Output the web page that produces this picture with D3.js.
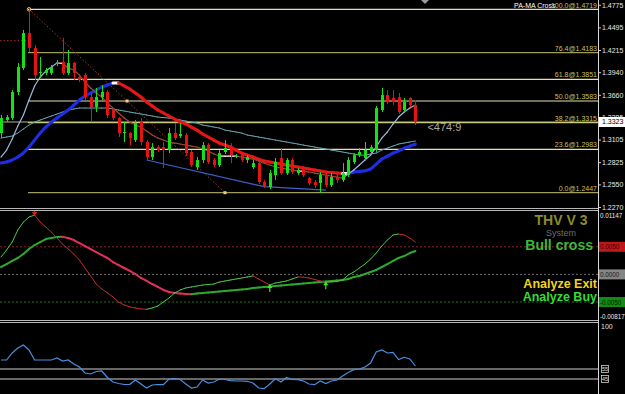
<!DOCTYPE html>
<html>
<head>
<meta charset="utf-8">
<script src="https://d3js.org/d3.v7.min.js"></script>
<style>
  body { margin: 0; background: #000; }
  svg { display: block; }
  text { font-family: "Liberation Sans", Arial, sans-serif; }
</style>
</head>
<body>
<svg id="chart"></svg>
<script>
// chart size and right price axis
var svgWidth = 625;
var svgHeight = 394;
var axisX = 598;

// candles, one per bar (index 0..74)
var opens = [1.3186,1.3347,1.3372,1.3694,1.3992,1.4425,1.4240,1.3930,1.3930,1.3930,
  1.4041,1.4066,1.3930,1.4054,1.3880,1.3905,1.3632,1.3508,1.3632,1.3694,
  1.3471,1.3372,1.3186,1.3186,1.3099,1.3322,1.3075,1.2889,1.3012,1.3012,
  1.2975,1.3186,1.3149,1.3161,1.2951,1.2765,1.2852,1.3037,1.2852,1.2790,
  1.2951,1.3012,1.2901,1.2913,1.2852,1.2765,1.2814,1.2579,1.2517,1.2666,
  1.2876,1.2690,1.2852,1.2690,1.2752,1.2628,1.2579,1.2567,1.2666,1.2542,
  1.2641,1.2604,1.2666,1.2827,1.2913,1.2876,1.2951,1.2975,1.3471,1.3657,
  1.3620,1.3632,1.3471,1.3620,1.3533];
var highs = [1.3409,1.3409,1.3719,1.4054,1.4463,1.4719,1.4277,1.4128,1.3992,1.4029,
  1.4091,1.4363,1.4215,1.4066,1.3905,1.3930,1.3682,1.3744,1.3781,1.3719,
  1.3496,1.3384,1.3322,1.3199,1.3347,1.3372,1.3099,1.3062,1.3037,1.3075,
  1.3248,1.3310,1.3310,1.3186,1.2975,1.2889,1.3075,1.3062,1.2876,1.2975,
  1.3099,1.3062,1.2926,1.2951,1.2913,1.2852,1.2852,1.2604,1.2728,1.2876,
  1.3000,1.2876,1.2876,1.2752,1.2777,1.2641,1.2604,1.2703,1.2690,1.2690,
  1.2703,1.2814,1.2889,1.2938,1.3000,1.3075,1.3037,1.3521,1.3744,1.3719,
  1.3719,1.3682,1.3620,1.3632,1.3595];
var lows = [1.3124,1.3322,1.3347,1.3657,1.3967,1.4190,1.3843,1.3880,1.3905,1.3905,
  1.4016,1.3905,1.3905,1.3843,1.3818,1.3595,1.3322,1.3446,1.3595,1.3372,
  1.3347,1.3137,1.3075,1.3037,1.3075,1.3037,1.2852,1.2852,1.2951,1.2752,
  1.2938,1.3099,1.3124,1.2901,1.2765,1.2728,1.2814,1.2802,1.2765,1.2765,
  1.2926,1.2814,1.2876,1.2827,1.2814,1.2740,1.2554,1.2505,1.2492,1.2604,
  1.2666,1.2666,1.2678,1.2666,1.2641,1.2542,1.2505,1.2447,1.2517,1.2517,
  1.2567,1.2579,1.2641,1.2802,1.2889,1.2852,1.2926,1.2951,1.3446,1.3545,
  1.3533,1.3422,1.3446,1.3508,1.3285];
var closes = [1.3372,1.3384,1.3694,1.4004,1.4425,1.4240,1.3905,1.3942,1.3967,1.4004,
  1.4054,1.3930,1.4054,1.3930,1.3843,1.3632,1.3508,1.3632,1.3694,1.3409,
  1.3372,1.3186,1.3199,1.3124,1.3310,1.3075,1.2889,1.3012,1.2975,1.2975,
  1.3186,1.3124,1.3174,1.2938,1.2790,1.2852,1.3037,1.2827,1.2790,1.2938,
  1.3000,1.2913,1.2901,1.2852,1.2889,1.2814,1.2579,1.2517,1.2690,1.2827,
  1.2690,1.2852,1.2703,1.2728,1.2666,1.2567,1.2542,1.2666,1.2542,1.2641,
  1.2604,1.2690,1.2852,1.2913,1.2951,1.2975,1.3012,1.3496,1.3657,1.3570,
  1.3570,1.3446,1.3570,1.3533,1.3323];

// moving averages
var fastMA = [1.2889,1.2975,1.3112,1.3273,1.3409,1.3595,1.3769,1.3880,1.3954,1.4004,
  1.4054,1.4050,1.3992,1.3967,1.3905,1.3818,1.3744,1.3682,1.3632,1.3558,
  1.3496,1.3434,1.3372,1.3322,1.3285,1.3260,1.3211,1.3161,1.3124,1.3099,
  1.3075,1.3062,1.3050,1.3037,1.3025,1.3013,1.2988,1.2963,1.2926,1.2901,
  1.2900,1.2900,1.2899,1.2889,1.2876,1.2864,1.2839,1.2814,1.2790,1.2765,
  1.2752,1.2740,1.2728,1.2715,1.2714,1.2703,1.2690,1.2678,1.2666,1.2653,
  1.2641,1.2628,1.2678,1.2728,1.2790,1.2852,1.2913,1.3013,1.3124,1.3199,
  1.3298,1.3384,1.3446,1.3496,1.3533];
var slowMA = [1.2814,1.2827,1.2852,1.2889,1.2938,1.3013,1.3099,1.3186,1.3260,1.3322,
  1.3372,1.3422,1.3471,1.3533,1.3595,1.3645,1.3682,1.3719,1.3756,1.3781,
  1.3806,1.3806,1.3769,1.3731,1.3682,1.3632,1.3570,1.3521,1.3471,1.3434,
  1.3397,1.3360,1.3322,1.3298,1.3260,1.3223,1.3174,1.3137,1.3099,1.3062,
  1.3037,1.3013,1.2975,1.2938,1.2913,1.2889,1.2864,1.2839,1.2827,1.2814,
  1.2802,1.2790,1.2777,1.2765,1.2752,1.2740,1.2728,1.2715,1.2703,1.2697,
  1.2690,1.2684,1.2684,1.2703,1.2710,1.2718,1.2740,1.2802,1.2864,1.2901,
  1.2938,1.2963,1.3000,1.3025,1.3050];
var longMA = [1.3124,1.3137,1.3149,1.3186,1.3236,1.3285,1.3322,1.3347,1.3372,1.3397,
  1.3422,1.3446,1.3471,1.3484,1.3496,1.3496,1.3496,1.3496,1.3496,1.3496,
  1.3484,1.3471,1.3459,1.3446,1.3434,1.3422,1.3409,1.3397,1.3384,1.3378,
  1.3372,1.3360,1.3347,1.3335,1.3322,1.3310,1.3285,1.3273,1.3260,1.3248,
  1.3223,1.3211,1.3199,1.3186,1.3161,1.3149,1.3137,1.3124,1.3112,1.3099,
  1.3087,1.3075,1.3062,1.3050,1.3037,1.3025,1.3013,1.3000,1.2988,1.2975,
  1.2963,1.2951,1.2938,1.2926,1.2913,1.2913,1.2926,1.2938,1.2975,1.3000,
  1.3025,1.3050,1.3062,1.3075,1.3087];

// fibonacci levels and price axis
var fibPct = ["100.0","76.4","61.8","50.0","38.2","23.6","0.0"];
var fibPrice = [1.4719,1.4183,1.3851,1.3583,1.3315,1.2983,1.2447];
var priceTicks = [1.4775,1.4495,1.4215,1.3940,1.3660,1.3385,1.3105,1.2825,1.2550,1.2270];
var lastPrice = 1.3323;
var fibTrend = [[5,1.4719],[40,1.2447]];
var channelLine = [[26,1.2852],[47,1.2522],[58,1.2479]];
var oldLevel = 1.4330;

// THV V3 oscillator
var thvFast = [0.00315,0.00442,0.00586,0.00804,0.00948,0.01039,0.01075,0.00948,0.00858,0.00767,
  0.00659,0.00550,0.00460,0.00369,0.00261,0.00116,-0.00029,-0.00174,-0.00264,-0.00337,
  -0.00409,-0.00500,-0.00554,-0.00590,-0.00608,-0.00626,-0.00632,-0.00608,-0.00572,-0.00500,
  -0.00427,-0.00337,-0.00282,-0.00246,-0.00228,-0.00210,-0.00192,-0.00183,-0.00174,-0.00138,
  -0.00119,-0.00101,-0.00083,-0.00065,-0.00047,-0.00029,-0.00083,-0.00138,-0.00192,-0.00156,
  -0.00138,-0.00119,-0.00083,-0.00047,-0.00050,-0.00065,-0.00092,-0.00119,-0.00140,-0.00136,
  -0.00128,-0.00101,-0.00011,0.00043,0.00116,0.00188,0.00279,0.00387,0.00514,0.00623,
  0.00713,0.00731,0.00713,0.00659,0.00586];
var thvSlow = [0.00134,0.00188,0.00243,0.00297,0.00369,0.00460,0.00532,0.00586,0.00641,0.00659,
  0.00677,0.00680,0.00659,0.00623,0.00568,0.00514,0.00460,0.00405,0.00351,0.00297,
  0.00224,0.00170,0.00116,0.00062,0.00007,-0.00065,-0.00119,-0.00174,-0.00228,-0.00282,
  -0.00319,-0.00337,-0.00346,-0.00355,-0.00358,-0.00346,-0.00337,-0.00328,-0.00319,-0.00310,
  -0.00300,-0.00291,-0.00282,-0.00273,-0.00264,-0.00246,-0.00237,-0.00228,-0.00219,-0.00210,
  -0.00201,-0.00192,-0.00183,-0.00174,-0.00165,-0.00156,-0.00147,-0.00138,-0.00129,-0.00119,
  -0.00110,-0.00101,-0.00083,-0.00047,-0.00029,0.00007,0.00043,0.00080,0.00134,0.00188,
  0.00243,0.00297,0.00333,0.00387,0.00424];
var thvTicks = [0.01147,0.005,0,-0.005,-0.00817];
var thvTickLabels = ["0.01147","0.0050","0.0000","-0.0050","-0.00817"];
var sellArrows = [6];
var buyArrows = [48,58];

// RSI-like bottom panel
var rsi = [64,64,71,76,79,74,64,64,64,64,
  66,63,64,60,57,51,50,52.5,53,46.5,
  42,40.5,39.5,39.7,44,40,36,39,39.5,39.3,
  45,45.3,44.5,40,36,37,44,41,42,45,
  44.5,43.4,43,43,42.7,41,36,35.3,40,45.3,
  42,46.5,44.5,44.3,43,40,39.3,43,40.5,43,
  44,48,51.5,54.3,55,57,61,72,74,71,
  71.7,64.5,66.7,65,58];
var rsiLevels = [55,45];

// scales
var x = d3.scaleLinear().domain([0, 74]).range([1, 415.4]);
var yP = d3.scaleLinear().domain([1.4719, 1.2447]).range([9.3, 192.7]);
var yO = d3.scaleLinear().domain([0.005, -0.005]).range([246.8, 302]);
var yR = d3.scaleLinear().domain([55, 45]).range([369, 379]);

var svg = d3.select("#chart").attr("width", svgWidth).attr("height", svgHeight);
svg.append("rect").attr("width", svgWidth).attr("height", svgHeight).attr("fill", "#000");

var defs = svg.append("defs");
[["p1", 0, 208], ["p2", 211, 109], ["p3", 323, 71]].forEach(function(c) {
  defs.append("clipPath").attr("id", c[0])
    .append("rect").attr("x", 0).attr("y", c[1]).attr("width", axisX).attr("height", c[2]);
});

// ---------- main price panel ----------
var main = svg.append("g").attr("clip-path", "url(#p1)");

// bid line across the chart
main.append("line")
  .attr("x1", 0).attr("x2", axisX)
  .attr("y1", yP(lastPrice)).attr("y2", yP(lastPrice))
  .attr("stroke", "#b4b4a0").attr("stroke-width", 1);

// fib levels
var fibColor = function(i) {
  return (i == 1 || i == 6) ? "#9c9c5c" : (i == 4 ? "#c8c87a" : "#e2e2b0");
};
main.selectAll(".fib").data(fibPrice).join("line")
  .attr("class", "fib")
  .attr("x1", x(fibTrend[0][0]) - 1).attr("x2", axisX)
  .attr("y1", function(d) { return yP(d); })
  .attr("y2", function(d) { return yP(d); })
  .attr("stroke", function(d, i) { return fibColor(i); })
  .attr("stroke-width", 1.2);

main.selectAll(".fibLabel").data(fibPrice.slice(1)).join("text")
  .attr("class", "fibLabel")
  .attr("x", axisX - 1)
  .attr("y", function(d) { return yP(d) - 2; })
  .attr("text-anchor", "end")
  .attr("font-size", 7)
  .attr("fill", "#c8c060")
  .text(function(d, i) { return fibPct[i + 1] + "@" + d.toFixed(4); });

// dotted fib trend line and old level
main.append("line")
  .attr("x1", x(fibTrend[0][0])).attr("y1", yP(fibTrend[0][1]))
  .attr("x2", x(fibTrend[1][0])).attr("y2", yP(fibTrend[1][1]))
  .attr("stroke", "#a83820").attr("stroke-dasharray", "1.5,2");
main.append("line")
  .attr("x1", 0).attr("x2", x(fibTrend[0][0]))
  .attr("y1", yP(oldLevel)).attr("y2", yP(oldLevel))
  .attr("stroke", "#a83820").attr("stroke-dasharray", "1.5,2");
main.append("circle")
  .attr("cx", x(fibTrend[0][0])).attr("cy", yP(fibTrend[0][1])).attr("r", 1.8)
  .attr("fill", "none").attr("stroke", "#f0b070");
[0.5, 1].forEach(function(t) {
  var xi = fibTrend[0][0] + (fibTrend[1][0] - fibTrend[0][0]) * t;
  var pi = fibTrend[0][1] + (fibTrend[1][1] - fibTrend[0][1]) * t;
  main.append("rect").attr("x", x(xi) - 1.5).attr("y", yP(pi) - 1.5)
    .attr("width", 3).attr("height", 3).attr("fill", "#f0d080");
});

// lower channel line
main.append("path")
  .datum(channelLine)
  .attr("fill", "none").attr("stroke", "#3f5fc8").attr("stroke-width", 1.2)
  .attr("d", d3.line().x(function(d) { return x(d[0]); }).y(function(d) { return yP(d[1]); }));

// line drawn in pieces, coloured by direction
function segLine(g, vals, yScale, upC, downC, flatC, w, eps) {
  g.append("g").selectAll("line").data(d3.range(vals.length - 1)).join("line")
    .attr("x1", function(i) { return x(i); })
    .attr("x2", function(i) { return x(i + 1); })
    .attr("y1", function(i) { return yScale(vals[i]); })
    .attr("y2", function(i) { return yScale(vals[i + 1]); })
    .attr("stroke", function(i) {
      var d = vals[i + 1] - vals[i];
      return d > eps ? upC : (d < -eps ? downC : flatC);
    })
    .attr("stroke-width", w)
    .attr("stroke-linecap", "round");
}

segLine(main, longMA, yP, "#6aa8b0", "#6aa8b0", "#6aa8b0", 1, 0);
segLine(main, slowMA, yP, "#1e2ee6", "#e81616", "#ffffff", 3, 0.00005);
segLine(main, fastMA, yP, "#9cb8dc", "#a04a2c", "#ffffff", 1.2, 0.0005);

// candles
var candles = main.append("g");
var idx = d3.range(opens.length);
var candleColor = function(i) { return closes[i] >= opens[i] ? "#16e016" : "#e41414"; };
candles.selectAll(".wick").data(idx).join("line")
  .attr("class", "wick")
  .attr("x1", function(i) { return Math.round(x(i)) + 0.5; })
  .attr("x2", function(i) { return Math.round(x(i)) + 0.5; })
  .attr("y1", function(i) { return yP(highs[i]); })
  .attr("y2", function(i) { return yP(lows[i]); })
  .attr("stroke", candleColor);
candles.selectAll(".body").data(idx).join("rect")
  .attr("class", "body")
  .attr("x", function(i) { return Math.round(x(i)) - 1; })
  .attr("width", 3)
  .attr("y", function(i) { return yP(Math.max(opens[i], closes[i])); })
  .attr("height", function(i) { return Math.max(1, Math.abs(yP(opens[i]) - yP(closes[i]))); })
  .attr("fill", candleColor);

// header texts
svg.append("text").attr("x", 514).attr("y", 8).attr("font-size", 7).attr("fill", "#ffffff")
  .text("PA-MA Cross");
svg.append("text").attr("x", axisX - 1).attr("y", 8).attr("font-size", 7)
  .attr("text-anchor", "end").attr("fill", "#c8c060")
  .text(fibPct[0] + "@" + fibPrice[0].toFixed(4));
svg.append("path").attr("d", "M421,0 L429,0 L425,4 Z").attr("fill", "#9a9a9a");

svg.append("text").attr("x", x(74) + 12).attr("y", 131)
  .attr("font-size", 11).attr("fill", "#a8a8a8").text("<474:9");

// price axis
var priceAxis = svg.append("g")
  .attr("transform", "translate(" + axisX + ",0)")
  .call(d3.axisRight(yP).tickValues(priceTicks).tickFormat(d3.format(".4f")).tickSize(3));
priceAxis.select(".domain").remove();
priceAxis.selectAll("line").attr("stroke", "#d0d0d0");
priceAxis.selectAll("text").attr("fill", "#e8e8e8").attr("font-size", 7)
  .attr("font-family", "Liberation Sans, Arial, sans-serif").attr("x", 4);

svg.append("rect").attr("x", axisX + 1).attr("y", yP(lastPrice) - 5)
  .attr("width", svgWidth - axisX - 1).attr("height", 10).attr("fill", "#ffffff");
svg.append("text").attr("x", axisX + 4).attr("y", yP(lastPrice) + 2.5)
  .attr("font-size", 7).attr("fill", "#000").text(lastPrice.toFixed(4));

// ---------- THV panel ----------
var osc = svg.append("g").attr("clip-path", "url(#p2)");
var levelColors = ["#8c2020", "#6a6a6a", "#207020"];
[0.005, 0, -0.005].forEach(function(v, k) {
  osc.append("line").attr("x1", 0).attr("x2", axisX)
    .attr("y1", yO(v)).attr("y2", yO(v))
    .attr("stroke", levelColors[k]).attr("stroke-dasharray", "2,2");
});
segLine(osc, thvSlow, yO, "#2ea82e", "#e0305a", "#2ea82e", 2, 0);
segLine(osc, thvFast, yO, "#48c848", "#c42a2a", "#48c848", 1, 0);

osc.selectAll(".sell").data(sellArrows).join("path")
  .attr("class", "sell")
  .attr("transform", function(i) { return "translate(" + x(i) + "," + (yO(thvFast[i]) - 1) + ")"; })
  .attr("d", "M-2.5,-2 L2.5,-2 L0,2 Z M-0.6,-6 L0.6,-6 L0.6,-2 L-0.6,-2 Z")
  .attr("fill", "#e02020");
osc.selectAll(".buy").data(buyArrows).join("path")
  .attr("class", "buy")
  .attr("transform", function(i) { return "translate(" + x(i) + "," + (yO(thvFast[i]) + 1) + ")"; })
  .attr("d", "M-2.5,2 L2.5,2 L0,-2 Z M-0.6,6 L0.6,6 L0.6,2 L-0.6,2 Z")
  .attr("fill", "#30f030");

svg.append("text").attr("x", 561).attr("y", 225).attr("text-anchor", "middle")
  .attr("font-size", 14).attr("font-weight", "bold").attr("fill", "#8c8c26").text("THV V 3");
svg.append("text").attr("x", 561).attr("y", 236).attr("text-anchor", "middle")
  .attr("font-size", 9).attr("fill", "#6e6e6e").text("System");
svg.append("text").attr("x", 593).attr("y", 250).attr("text-anchor", "end")
  .attr("font-size", 14).attr("font-weight", "bold").attr("fill", "#3cb83c").text("Bull cross");
svg.append("text").attr("x", 597).attr("y", 288).attr("text-anchor", "end")
  .attr("font-size", 12.5).attr("font-weight", "bold").attr("fill", "#f2d21e").text("Analyze Exit");
svg.append("text").attr("x", 597).attr("y", 301).attr("text-anchor", "end")
  .attr("font-size", 12.5).attr("font-weight", "bold").attr("fill", "#34dc34").text("Analyze Buy");

var boxFill = [null, "#c01818", "#858585", "#138a13", null];
var boxText = ["#e8e8e8", "#3a0000", "#1a1a1a", "#002400", "#e8e8e8"];
thvTicks.forEach(function(v, k) {
  var yy = Math.min(316, Math.max(215, yO(v)));
  if (boxFill[k]) {
    svg.append("rect").attr("x", axisX + 1).attr("y", yy - 5)
      .attr("width", svgWidth - axisX - 1).attr("height", 10).attr("fill", boxFill[k]);
  }
  svg.append("text").attr("x", axisX + 2).attr("y", yy + 2.5)
    .attr("font-size", 6.3).attr("fill", boxText[k]).text(thvTickLabels[k]);
});

// ---------- RSI panel ----------
var low = svg.append("g").attr("clip-path", "url(#p3)");
rsiLevels.forEach(function(v) {
  low.append("line").attr("x1", 0).attr("x2", axisX)
    .attr("y1", yR(v)).attr("y2", yR(v))
    .attr("stroke", "#8a8a8a").attr("stroke-width", 1.5);
});
low.append("path").datum(rsi)
  .attr("fill", "none").attr("stroke", "#4a8fe0").attr("stroke-width", 1.2)
  .attr("d", d3.line().x(function(d, i) { return x(i); }).y(function(d) { return yR(d); }));

svg.append("text").attr("x", axisX + 3).attr("y", 329)
  .attr("font-size", 7).attr("fill", "#e0e0e0").text("100");
rsiLevels.forEach(function(v) {
  svg.append("rect").attr("x", axisX + 3.5).attr("y", yR(v) - 3.5)
    .attr("width", 7).attr("height", 7).attr("fill", "#000")
    .attr("stroke", "#d0d0d0").attr("stroke-width", 0.8);
  svg.append("text").attr("x", axisX + 7).attr("y", yR(v) + 2)
    .attr("text-anchor", "middle").attr("font-size", 5.5).attr("fill", "#e0e0e0").text(v);
});

// panel borders and axis line
[208.5, 210.5, 320.5, 322.5].forEach(function(yy) {
  svg.append("line").attr("x1", 0).attr("x2", axisX).attr("y1", yy).attr("y2", yy)
    .attr("stroke", "#b8b8b8").attr("stroke-width", 1);
});
svg.append("line").attr("x1", axisX + 0.5).attr("x2", axisX + 0.5)
  .attr("y1", 0).attr("y2", svgHeight).attr("stroke", "#d8d8d8");
</script>
</body>
</html>
